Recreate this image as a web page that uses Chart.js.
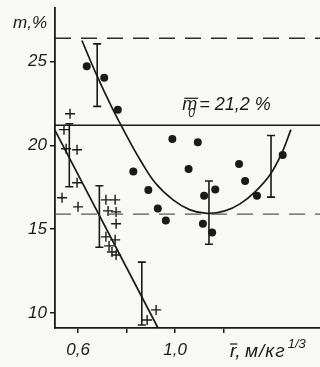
<!DOCTYPE html>
<html>
<head>
<meta charset="utf-8">
<script src="https://cdn.jsdelivr.net/npm/chart.js@4/dist/chart.umd.min.js"></script>
<style>
html,body{margin:0;padding:0;background:#f8f8f6;}
canvas{display:block;}
</style>
</head>
<body>
<canvas id="chart" width="320" height="367"></canvas>
<script>
// filled circles
var dotX = [0.636,0.708,0.764,0.828,0.890,0.929,0.962,0.989,1.094,1.056,1.120,1.166,1.115,1.153,1.264,1.289,1.338,1.444];
var dotY = [24.72,24.04,22.13,18.44,17.33,16.23,15.51,20.38,20.18,18.59,16.99,17.37,15.32,14.80,18.89,17.87,16.99,19.42];
// crosses
var crossX = [0.567,0.542,0.551,0.596,0.596,0.534,0.600,0.715,0.753,0.724,0.757,0.757,0.715,0.753,0.728,0.740,0.757,0.885,0.922];
var crossY = [21.89,20.94,19.80,19.74,17.77,16.87,16.33,16.75,16.75,16.09,16.03,15.32,14.54,14.36,14.00,13.64,13.46,9.58,10.18];
// curve through the circles
var curveX = [0.616,0.678,0.740,0.798,0.856,0.918,0.992,1.062,1.132,1.206,1.268,1.330,1.392,1.441,1.478];
var curveY = [26.26,24.16,22.25,20.64,19.14,17.77,16.75,16.15,15.94,16.09,16.51,17.23,18.25,19.56,20.94];
// line through the crosses
var fitX = [0.505,0.930];
var fitY = [20.9,9.1];
// error bars
var errX = [0.679,0.564,0.688,0.863,1.140,1.396];
var errLow = [22.33,17.53,13.92,9.28,14.10,16.91];
var errHigh = [26.06,21.29,17.59,13.03,17.87,20.59];
// reference levels
var levelTop = 26.4;
var levelM0 = 21.2;
var levelLow = 15.9;
// axes
var xMin = 0.505, xMax = 1.598, yMin = 9.1, yMax = 28.2;
var xTicks = [0.6,0.8,1.0,1.2];
var xTickLabels = ['0,6','','1,0',''];
var yTicks = [10,15,20,25];

var ink = '#1a1a1a';
var tickFont = {family:'Liberation Sans', size:17, style:'italic'};

function pts(xs, ys){
    return xs.map(function(x,i){ return {x:x, y:ys[i]}; });
}
function hline(v){
    return [{x:xMin,y:v},{x:xMax,y:v}];
}

var errorBars = {
    id:'errorBars',
    afterDatasetsDraw:function(chart){
        var ctx = chart.ctx, xs = chart.scales.x, ys = chart.scales.y;
        ctx.save();
        ctx.strokeStyle = ink;
        ctx.lineWidth = 1.6;
        for(var i=0;i<errX.length;i++){
            var px = xs.getPixelForValue(errX[i]);
            var t = ys.getPixelForValue(errHigh[i]);
            var b = ys.getPixelForValue(errLow[i]);
            ctx.beginPath();
            ctx.moveTo(px,t); ctx.lineTo(px,b);
            ctx.moveTo(px-4,t); ctx.lineTo(px+4,t);
            ctx.moveTo(px-4,b); ctx.lineTo(px+4,b);
            ctx.stroke();
        }
        ctx.restore();
    }
};

var labels = {
    id:'labels',
    afterDraw:function(chart){
        var ctx = chart.ctx, xs = chart.scales.x, ys = chart.scales.y;
        ctx.save();
        ctx.fillStyle = ink;
        ctx.strokeStyle = ink;
        ctx.lineWidth = 1.2;
        ctx.textBaseline = 'alphabetic';
        ctx.textAlign = 'left';
        // y title
        ctx.font = 'italic 17px "Liberation Sans"';
        ctx.fillText('m,%', 13, 28);
        // m0 annotation
        var x0 = xs.getPixelForValue(1.03);
        var base = ys.getPixelForValue(levelM0) - 15;
        ctx.font = 'italic 18px "Liberation Sans"';
        ctx.fillText('m', x0, base);
        var mw = ctx.measureText('m').width;
        ctx.beginPath();
        ctx.moveTo(x0+2, base-12); ctx.lineTo(x0+mw+1, base-12);
        ctx.stroke();
        ctx.font = 'italic 12px "Liberation Sans"';
        ctx.fillText('0', x0+6, base+7);
        ctx.font = 'italic 18px "Liberation Sans"';
        ctx.fillText('= 21,2 %', x0+mw+2, base);
        // x title
        var xt = xs.getPixelForValue(1.227);
        var xb = 357;
        ctx.font = 'italic 19px "Liberation Sans"';
        ctx.fillText('r,', xt, xb);
        var rw = ctx.measureText('r').width;
        ctx.beginPath();
        ctx.moveTo(xt, xb-13); ctx.lineTo(xt+rw+1, xb-13);
        ctx.stroke();
        ctx.letterSpacing = '1px';
        ctx.fillText('м/кг', xt+15, xb);
        var tw = ctx.measureText('м/кг').width;
        ctx.letterSpacing = '0px';
        ctx.font = 'italic 13px "Liberation Sans"';
        ctx.fillText('1/3', xt+15+tw+2, xb-9);
        ctx.restore();
    }
};

new Chart(document.getElementById('chart').getContext('2d'), {
    type:'scatter',
    data:{
        datasets:[
            {data:hline(levelTop), showLine:true, borderColor:'#2a2a2a', borderWidth:1.5, borderDash:[16,10], pointRadius:0},
            {data:hline(levelM0), showLine:true, borderColor:ink, borderWidth:1.5, pointRadius:0},
            {data:hline(levelLow), showLine:true, borderColor:'#555', borderWidth:1.3, borderDash:[16,10], pointRadius:0},
            {data:pts(curveX,curveY), showLine:true, borderColor:ink, borderWidth:1.7, tension:0.4, pointRadius:0},
            {data:pts(fitX,fitY), showLine:true, borderColor:ink, borderWidth:1.7, pointRadius:0},
            {data:pts(crossX,crossY), pointStyle:'cross', pointRadius:5, borderColor:ink, borderWidth:1.4},
            {data:pts(dotX,dotY), pointStyle:'circle', pointRadius:4, backgroundColor:ink, borderColor:ink, borderWidth:0}
        ]
    },
    options:{
        responsive:false,
        animation:false,
        clip:false,
        layout:{autoPadding:false, padding:{top:8,right:0,left:0,bottom:0}},
        plugins:{legend:{display:false}, tooltip:{enabled:false}},
        scales:{
            x:{
                type:'linear', min:xMin, max:xMax,
                afterBuildTicks:function(s){ s.ticks = xTicks.map(function(v){ return {value:v}; }); },
                afterFit:function(s){ s.height = 39; s.paddingLeft = 0; s.paddingRight = 0; },
                ticks:{
                    color:ink, font:tickFont, padding:7, maxRotation:0, autoSkip:false,
                    callback:function(v){ var i = xTicks.indexOf(v); return i<0 ? '' : xTickLabels[i]; }
                },
                grid:{display:true, drawOnChartArea:false, drawTicks:true, tickLength:5, color:ink, lineWidth:1.5},
                border:{display:true, color:ink, width:1.8}
            },
            y:{
                type:'linear', min:yMin, max:yMax,
                afterBuildTicks:function(s){ s.ticks = yTicks.map(function(v){ return {value:v}; }); },
                afterFit:function(s){ s.width = 55; s.paddingTop = 0; s.paddingBottom = 0; },
                ticks:{color:ink, font:tickFont, padding:3, autoSkip:false},
                grid:{display:true, drawOnChartArea:false, drawTicks:true, tickLength:5, color:ink, lineWidth:1.5},
                border:{display:true, color:ink, width:1.8}
            }
        }
    },
    plugins:[errorBars, labels]
});
</script>
</body>
</html>
